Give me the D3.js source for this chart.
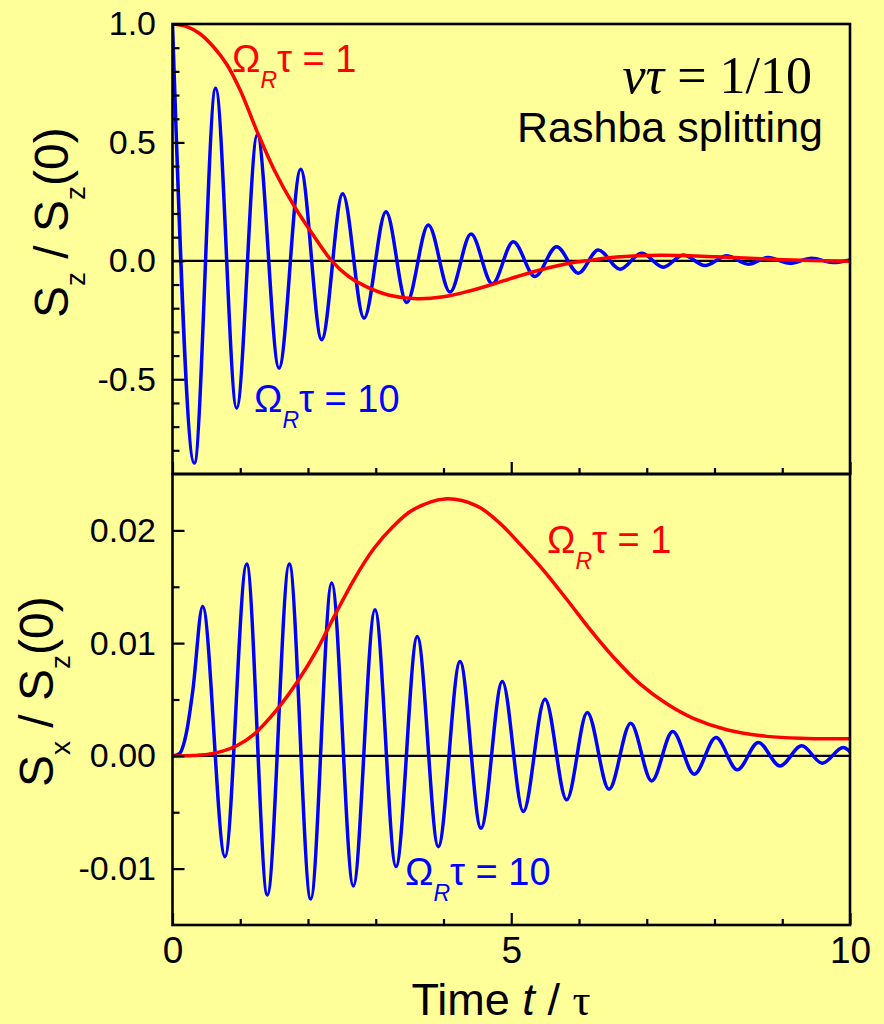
<!DOCTYPE html>
<html>
<head>
<meta charset="utf-8">
<script src="https://cdn.jsdelivr.net/npm/d3@7"></script>
<style>
  html, body { margin: 0; padding: 0; background: #FFFF99; }
  svg { display: block; }
</style>
</head>
<body>
<svg id="chart" width="884" height="1024"></svg>
<script>
// ---- time axis (shared) ----
const timeDomain = [0, 10];
const timeMajorTicks = [0, 5, 10];
const timeMinorTicks = [1, 2, 3, 4, 6, 7, 8, 9];

// ---- upper panel: S_z / S_z(0) ----
const szDomain = [-0.9, 1.0];
const szMajorTicks = [-0.5, 0.0, 0.5, 1.0];
const szTickLabels = ["-0.5", "0.0", "0.5", "1.0"];
const szMinorTicks = [-0.8, -0.7, -0.6, -0.4, -0.3, -0.2, -0.1, 0.1, 0.2, 0.3, 0.4, 0.6, 0.7, 0.8, 0.9];

// Omega_R tau = 1, [t/tau, S_z/S_z(0)]
const szSlow = [
  [0, 1.0], [0.2, 0.99], [0.4, 0.96], [0.6, 0.905], [0.8, 0.83], [1.0, 0.72],
  [1.243, 0.55], [1.5, 0.385], [1.783, 0.237], [2.078, 0.108], [2.35, 0.0],
  [2.6, -0.066], [2.866, -0.11], [3.2, -0.145], [3.6, -0.160], [4.0, -0.152],
  [4.4, -0.126], [4.735, -0.098], [4.98, -0.076], [5.326, -0.046], [5.818, -0.012],
  [6.11, 0.0], [6.556, 0.016], [7.196, 0.024], [8.03, 0.017], [9.015, 0.005], [10, -0.002]
];

// Omega_R tau = 10, [t/tau, S_z/S_z(0)]
const szFast = [
  [0, 1.0], [0.322, -0.854], [0.637, 0.729], [0.947, -0.622], [1.252, 0.532],
  [1.572, -0.453], [1.892, 0.387], [2.202, -0.333], [2.512, 0.283], [2.827, -0.242],
  [3.151, 0.207], [3.457, -0.176], [3.776, 0.151], [4.096, -0.132], [4.406, 0.113],
  [4.721, -0.097], [5.03, 0.081], [5.35, -0.066], [5.67, 0.060], [5.99, -0.052],
  [6.285, 0.046], [6.605, -0.035], [6.925, 0.032], [7.245, -0.027], [7.54, 0.025],
  [7.86, -0.020], [8.18, 0.021], [8.5, -0.014], [8.79, 0.014], [9.11, -0.010],
  [9.435, 0.011], [9.75, -0.007], [10, 0.004]
];

// ---- lower panel: S_x / S_z(0) ----
const sxDomain = [-0.015, 0.025];
const sxMajorTicks = [-0.01, 0.0, 0.01, 0.02];
const sxTickLabels = ["-0.01", "0.00", "0.01", "0.02"];
const sxMinorTicks = [-0.005, 0.005, 0.015];

// Omega_R tau = 1, [t/tau, S_x/S_z(0)]
const sxSlow = [
  [0, 0], [0.3, 0.00003], [0.603, 0.00022], [0.947, 0.0009], [1.193, 0.00186],
  [1.538, 0.00408], [1.833, 0.00648], [2.128, 0.00935], [2.374, 0.01222],
  [2.669, 0.01553], [2.964, 0.01832], [3.259, 0.02037], [3.554, 0.02184],
  [4.022, 0.02279], [4.49, 0.02218], [4.834, 0.02062], [5.129, 0.01878],
  [5.473, 0.01648], [5.818, 0.01389], [6.162, 0.01122], [6.506, 0.00877],
  [6.9, 0.00638], [7.295, 0.00462], [7.687, 0.00333], [8.18, 0.00232],
  [8.771, 0.00173], [9.36, 0.00155], [10, 0.00151]
];

// Omega_R tau = 10, [t/tau, S_x/S_z(0)]
const sxFast = [
  [0, 0], [0.1, 0.0002], [0.21, 0.0022], [0.3, 0.0058], [0.445, 0.01325],
  [0.775, -0.00894], [1.095, 0.01701], [1.40, -0.01234], [1.724, 0.01701],
  [2.04, -0.01269], [2.35, 0.01533], [2.669, -0.01154], [2.989, 0.01296],
  [3.299, -0.00982], [3.613, 0.01059], [3.923, -0.00805], [4.244, 0.00837],
  [4.553, -0.00642], [4.868, 0.0066], [5.178, -0.00494], [5.498, 0.00503],
  [5.818, -0.0039], [6.122, 0.00385], [6.443, -0.00296], [6.763, 0.0029],
  [7.073, -0.00222], [7.383, 0.00216], [7.702, -0.00163], [8.022, 0.00163],
  [8.337, -0.00124], [8.647, 0.00118], [8.967, -0.00089], [9.287, 0.00089],
  [9.591, -0.00065], [9.90, 0.00074], [10, 0.00038]
];

// ---- layout ----
const W = 884, H = 1024;
const plotL = 172.5, plotR = 850, topT = 24, midY = 474, botB = 925;
const SANS = "'Liberation Sans', Arial, Helvetica, sans-serif";
const SERIF = "'Liberation Serif', 'Times New Roman', serif";
const RED = "#FF0000", BLUE = "#0000FF", BG = "#FFFF99";
const CURVE_W = 3.5;

const svg = d3.select("#chart");
svg.append("rect").attr("width", W).attr("height", H).attr("fill", BG);

const x = d3.scaleLinear().domain(timeDomain).range([plotL, plotR]);
const ySz = d3.scaleLinear().domain(szDomain).range([midY, topT]);
const ySx = d3.scaleLinear().domain(sxDomain).range([botB, midY]);

// clip regions for each panel
const defs = svg.append("defs");
defs.append("clipPath").attr("id", "clipTop").append("rect")
  .attr("x", plotL).attr("y", topT).attr("width", plotR - plotL).attr("height", midY - topT);
defs.append("clipPath").attr("id", "clipBot").append("rect")
  .attr("x", plotL).attr("y", midY).attr("width", plotR - plotL).attr("height", botB - midY);

function styleAxis(g, fontSize) {
  g.select(".domain").remove();
  g.selectAll(".tick line").attr("stroke", "#000").attr("stroke-width", 2.2);
  g.selectAll(".tick text").attr("fill", "#000").attr("font-family", SANS).attr("font-size", fontSize);
  g.attr("font-family", SANS);
}

function drawYAxis(scale, major, labels, minor) {
  const gMaj = svg.append("g").attr("transform", `translate(${plotL},0)`)
    .call(d3.axisLeft(scale).tickValues(major).tickFormat((d, i) => labels[i])
      .tickSizeInner(-12).tickSizeOuter(0).tickPadding(16.5));
  styleAxis(gMaj, 34);
  const gMin = svg.append("g").attr("transform", `translate(${plotL},0)`)
    .call(d3.axisLeft(scale).tickValues(minor).tickFormat("")
      .tickSizeInner(-7).tickSizeOuter(0));
  styleAxis(gMin, 34);
}

function drawXAxis(yPos, withLabels) {
  const gMaj = svg.append("g").attr("transform", `translate(0,${yPos})`)
    .call(d3.axisBottom(x).tickValues(timeMajorTicks)
      .tickFormat(withLabels ? d3.format("d") : "")
      .tickSizeInner(-12).tickSizeOuter(0).tickPadding(11.5));
  styleAxis(gMaj, 37);
  const gMin = svg.append("g").attr("transform", `translate(0,${yPos})`)
    .call(d3.axisBottom(x).tickValues(timeMinorTicks).tickFormat("")
      .tickSizeInner(-6).tickSizeOuter(0));
  styleAxis(gMin, 37);
}

function drawPanel(yScale, clipId, slow, fast) {
  // zero reference line
  svg.append("line")
    .attr("x1", plotL).attr("x2", plotR)
    .attr("y1", yScale(0)).attr("y2", yScale(0))
    .attr("stroke", "#000").attr("stroke-width", 2.2);
  const fastLine = d3.line().x(d => x(d[0])).y(d => yScale(d[1])).curve(d3.curveMonotoneX);
  const slowLine = d3.line().x(d => x(d[0])).y(d => yScale(d[1])).curve(d3.curveCatmullRom.alpha(0.5));
  const g = svg.append("g").attr("clip-path", `url(#${clipId})`);
  g.append("path").datum(fast).attr("d", fastLine)
    .attr("fill", "none").attr("stroke", BLUE).attr("stroke-width", CURVE_W)
    .attr("stroke-linejoin", "round");
  g.append("path").datum(slow).attr("d", slowLine)
    .attr("fill", "none").attr("stroke", RED).attr("stroke-width", CURVE_W)
    .attr("stroke-linejoin", "round");
}

drawPanel(ySz, "clipTop", szSlow, szFast);
drawPanel(ySx, "clipBot", sxSlow, sxFast);

drawYAxis(ySz, szMajorTicks, szTickLabels, szMinorTicks);
drawYAxis(ySx, sxMajorTicks, sxTickLabels, sxMinorTicks);
drawXAxis(midY, false);
drawXAxis(botB, true);

// panel frames
svg.append("rect").attr("x", plotL).attr("y", topT)
  .attr("width", plotR - plotL).attr("height", midY - topT)
  .attr("fill", "none").attr("stroke", "#000").attr("stroke-width", 2.6);
svg.append("rect").attr("x", plotL).attr("y", midY)
  .attr("width", plotR - plotL).attr("height", botB - midY)
  .attr("fill", "none").attr("stroke", "#000").attr("stroke-width", 2.6);

// curve labels: Omega_R tau = value
function omegaLabel(px, py, value, color) {
  const t = svg.append("text").attr("x", px).attr("y", py)
    .attr("fill", color).attr("font-family", SANS).attr("font-size", 38);
  t.append("tspan").text("Ω");
  t.append("tspan").attr("font-size", 23).attr("font-style", "italic").attr("dy", 16).text("R");
  t.append("tspan").attr("dy", -16).text("τ");
  t.append("tspan").text(" = " + value);
}
omegaLabel(232, 72, "1", RED);
omegaLabel(254, 412, "10", BLUE);
omegaLabel(547, 553, "1", RED);
omegaLabel(405, 885, "10", BLUE);

// parameter annotation
const nu = svg.append("text").attr("x", 812).attr("y", 93).attr("text-anchor", "end")
  .attr("font-family", SERIF).attr("font-size", 52).attr("fill", "#000");
nu.append("tspan").attr("font-style", "italic").text("ντ");
nu.append("tspan").text(" = 1/10");

svg.append("text").attr("x", 823).attr("y", 142).attr("text-anchor", "end")
  .attr("font-family", SANS).attr("font-size", 43).attr("fill", "#000")
  .text("Rashba splitting");

// axis titles
function yTitle(px, py, comp) {
  const t = svg.append("text")
    .attr("transform", `translate(${px},${py}) rotate(-90)`)
    .attr("font-family", SANS).attr("font-size", 48).attr("fill", "#000");
  t.append("tspan").text("S");
  t.append("tspan").attr("font-size", 28).attr("dy", 17).text(comp);
  t.append("tspan").attr("dy", -17).text(" / S");
  t.append("tspan").attr("font-size", 28).attr("dy", 17).text("z");
  t.append("tspan").attr("dy", -17).text("(0)");
}
yTitle(68, 318, "z");
yTitle(53, 787, "x");

const xt = svg.append("text").attr("x", 501).attr("y", 1015).attr("text-anchor", "middle")
  .attr("font-family", SANS).attr("font-size", 45).attr("fill", "#000");
xt.append("tspan").text("Time ");
xt.append("tspan").attr("font-style", "italic").text("t");
xt.append("tspan").text(" / ");
xt.append("tspan").attr("font-family", SERIF).text("τ");
</script>
</body>
</html>
